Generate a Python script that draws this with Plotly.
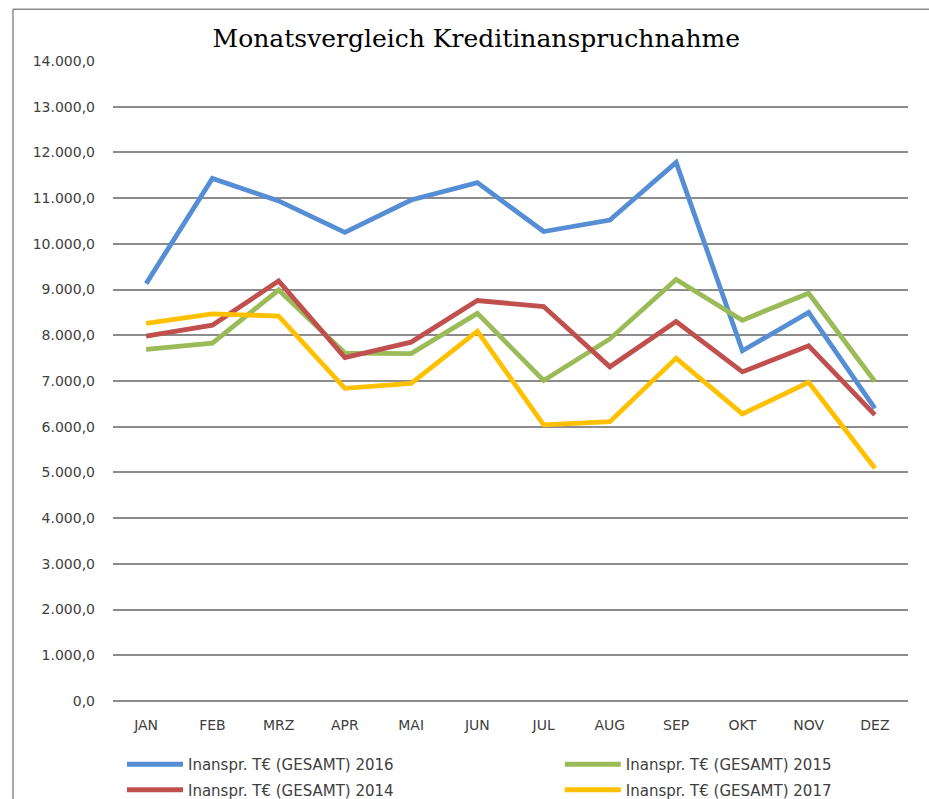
import plotly.graph_objects as go

months = ["JAN", "FEB", "MRZ", "APR", "MAI", "JUN", "JUL", "AUG", "SEP", "OKT", "NOV", "DEZ"]

series_names = [
    "Inanspr. T€ (GESAMT) 2016",
    "Inanspr. T€ (GESAMT) 2015",
    "Inanspr. T€ (GESAMT) 2014",
    "Inanspr. T€ (GESAMT) 2017",
]

values_2016 = [9130, 11430, 10940, 10250, 10960, 11340, 10270, 10520, 11780, 7660, 8500, 6400]
values_2015 = [7690, 7830, 8990, 7610, 7600, 8480, 7010, 7920, 9220, 8330, 8920, 6990]
values_2014 = [7980, 8220, 9190, 7510, 7850, 8760, 8630, 7310, 8300, 7200, 7770, 6260]
values_2017 = [8260, 8470, 8420, 6840, 6950, 8090, 6040, 6110, 7500, 6280, 6970, 5090]

colors = ["#558ED5", "#9BBB59", "#C0504D", "#FFC000"]
legend_ids = ["legend", "legend2", "legend", "legend2"]

y_tickvals = list(range(0, 14001, 1000))

fig = go.Figure()
for i, (name, vals, col, lg) in enumerate(zip(series_names, [values_2016, values_2015, values_2014, values_2017], colors, legend_ids)):
    fig.add_trace(go.Scatter(
        x=months, y=vals, name=name, mode="lines",
        line=dict(color=col, width=4.8),
        legend=lg, legendgroup=f"g{i}",
    ))

legend_common = dict(
    orientation="v",
    yanchor="top", xanchor="left",
    itemwidth=56,
    tracegroupgap=3,
    font=dict(family="DejaVu Sans", size=15, color="#404040"),
    bgcolor="rgba(0,0,0,0)",
)

fig.update_layout(
    width=929, height=799,
    margin=dict(l=113, r=21, t=61, b=98, autoexpand=False),
    paper_bgcolor="white", plot_bgcolor="white",
    separators=",.",
    title=dict(
        text="Monatsvergleich Kreditinanspruchnahme",
        font=dict(family="DejaVu Serif", size=25, color="#000000"),
        x=0.457, xanchor="center", xref="paper",
        y=0.9524, yanchor="middle",
    ),
    font=dict(family="DejaVu Sans", size=14, color="#404040"),
    showlegend=True,
    legend=dict(x=0.0113, y=-0.0734, **legend_common),
    legend2=dict(x=0.562, y=-0.0734, **legend_common),
    xaxis=dict(
        type="category", range=[-0.5, 11.5],
        showgrid=False, showline=False, zeroline=False,
        ticks="", ticklabelstandoff=14,
        tickfont=dict(family="DejaVu Sans", size=14, color="#404040"),
    ),
    yaxis=dict(
        range=[0, 14000],
        tickvals=y_tickvals,
        tickformat=",.1f",
        showgrid=True, gridcolor="#8c8c8c", gridwidth=1.5,
        zeroline=True, zerolinecolor="#8c8c8c", zerolinewidth=1.5,
        showline=False, ticks="", ticklabelstandoff=17,
        tickfont=dict(family="DejaVu Sans", size=14, color="#404040"),
    ),
    shapes=[
        dict(type="line", xref="paper", yref="paper",
             x0=-0.1258, x1=-0.1258, y0=-0.3, y1=1.081,
             line=dict(color="#8c8c8c", width=1.5), layer="below"),
        dict(type="line", xref="paper", yref="paper",
             x0=-0.1258, x1=1.2, y0=1.081, y1=1.081,
             line=dict(color="#8c8c8c", width=1.5), layer="below"),
    ],
)

fig.write_html(
    "out.html",
    config={"displayModeBar": False},
    post_script="document.body.style.margin='0';document.documentElement.style.overflow='hidden';document.body.style.overflow='hidden';",
)
